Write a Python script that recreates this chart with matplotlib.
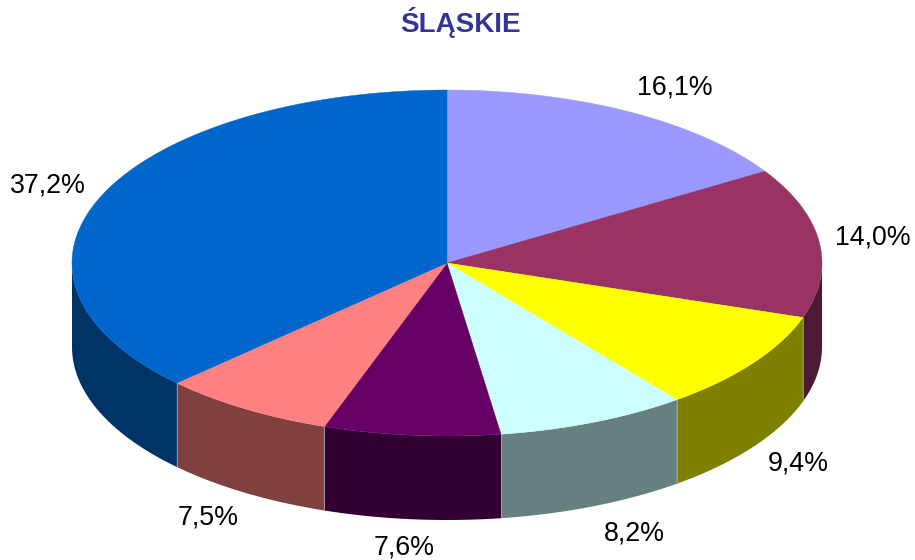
import numpy as np
import matplotlib
matplotlib.use("Agg")
import matplotlib.pyplot as plt

title = "ŚLĄSKIE"
values = [16.1, 14.0, 9.4, 8.2, 7.6, 7.5, 37.2]
labels = ["16,1%", "14,0%", "9,4%", "8,2%", "7,6%", "7,5%", "37,2%"]
top_colors = ["#9999FF", "#993366", "#FFFF00", "#CCFFFF", "#660066", "#FF8080", "#0066CC"]
side_colors = ["#4D4D80", "#4D1A33", "#808000", "#668080", "#330033", "#804040", "#003366"]
label_pos = [(675, 87), (873, 237), (798, 464), (634, 533), (404, 547), (208, 518), (48, 186)]

cx, cy = 447, 263
rx, ry = 375, 173
depth = 84

plt.rcParams['font.family'] = ['Liberation Sans', 'DejaVu Sans']

fig = plt.figure(figsize=(9.15, 5.6), dpi=100)
ax = fig.add_axes([0, 0, 1, 1])
ax.set_xlim(0, 915)
ax.set_ylim(560, 0)
ax.axis("off")


def rim(a0, a1):
    # angles clockwise from 12 o'clock, in radians
    t = np.linspace(a0, a1, max(int((a1 - a0) * 60), 2))
    return cx + rx * np.sin(t), cy - ry * np.cos(t)


edges = np.radians(np.cumsum([0] + values) / sum(values) * 360)

# side walls, only the front half of the rim shows
for i in range(len(values)):
    a0 = max(edges[i], np.pi / 2)
    a1 = min(edges[i + 1], 3 * np.pi / 2)
    if a1 <= a0:
        continue
    x, y = rim(a0, a1)
    ax.fill(np.r_[x, x[::-1]], np.r_[y, y[::-1] + depth], color=side_colors[i], lw=0, zorder=2)
    if edges[i] >= np.pi / 2:
        ax.plot([x[0], x[0]], [y[0], y[0] + depth], color="#B0B0B0", lw=0.5, zorder=3)

# top face
for i in range(len(values)):
    x, y = rim(edges[i], edges[i + 1])
    ax.fill(np.r_[cx, x], np.r_[cy, y], facecolor=top_colors[i], edgecolor=top_colors[i], lw=0.3, zorder=4)

ax.text(460.5, 23, title, color="#333399", fontsize=20, fontweight="bold", ha="center", va="center")
for lab, (lx, ly) in zip(labels, label_pos):
    ax.text(lx, ly, lab, color="black", fontsize=19.3, ha="center", va="center")

fig.savefig("out.png", dpi=100)
